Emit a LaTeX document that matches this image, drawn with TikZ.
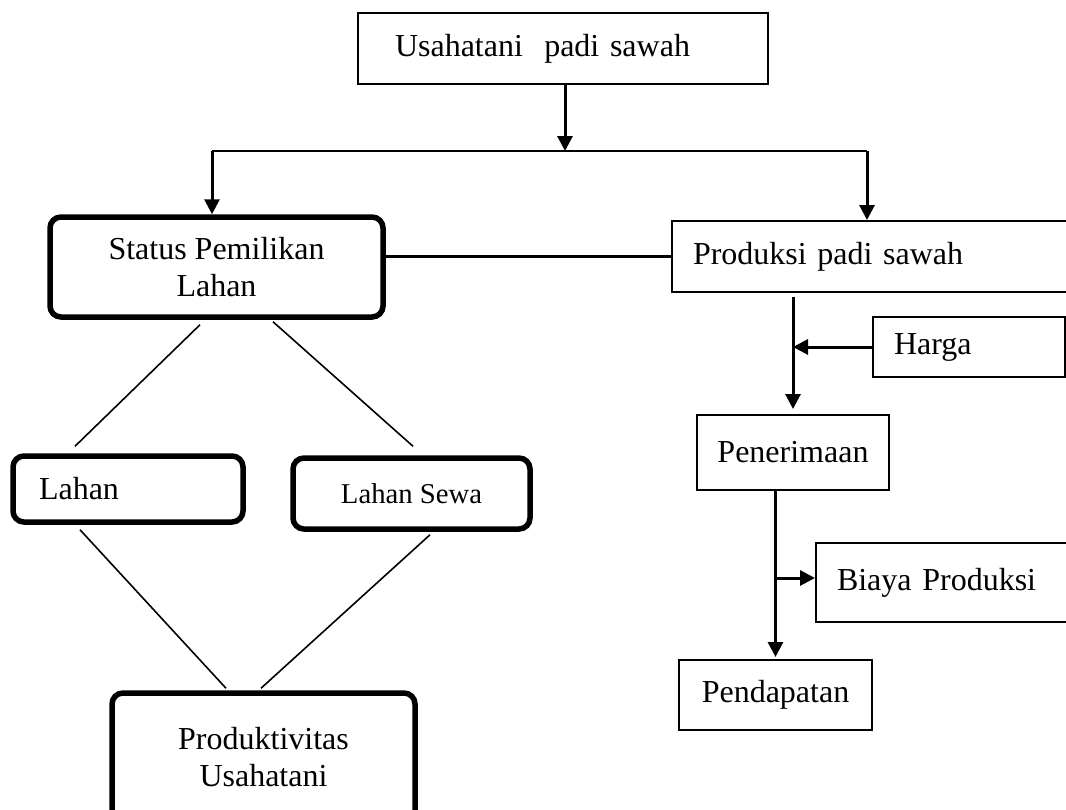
\documentclass[tikz,border=0pt]{standalone}
\usepackage{fontspec}
\setmainfont{Liberation Serif}
\usetikzlibrary{arrows.meta,calc}
\begin{document}
\begin{tikzpicture}[x=1pt,y=-1pt,
  thinbox/.style={draw,line width=2pt,inner ysep=0pt,font=\fontsize{32}{37}\selectfont},
  roundbox/.style={draw,line width=5.5pt,rounded corners=11pt,align=center,inner sep=0pt,font=\fontsize{32}{37}\selectfont},
  arr/.style={line width=3pt,-{Triangle[length=15pt,width=15pt]}},
  conn/.style={line width=2.2pt},
  diag/.style={line width=1.6pt}]
\useasboundingbox (0,0) rectangle (1066,809);
\clip (0,0) rectangle (1066,809);

% boxes
\node[thinbox,minimum width=410,minimum height=71,text width=336,inner xsep=37,align=left] (usaha) at (563,48.5) {Usahatani\ \ padi sawah};
\node[roundbox,minimum width=333,minimum height=100] (status) at (216.5,267) {Status Pemilikan\\Lahan};
\node[thinbox,minimum width=400,minimum height=71,text width=358,inner xsep=21,align=left] (produksi) at (872,256.5) {Produksi padi sawah};
\node[thinbox,minimum width=192,minimum height=60,text width=150,inner xsep=21,align=left] (harga) at (969,347) {Harga};
\node[thinbox,minimum width=192,minimum height=75,align=center] (penerimaan) at (793,452.5) {Penerimaan};
\node[thinbox,minimum width=256,minimum height=79,text width=214,inner xsep=21,align=left] (biaya) at (944,582.5) {Biaya Produksi};
\node[thinbox,minimum width=193,minimum height=70,align=center] (pendapatan) at (775.5,695) {Pendapatan};
\node[roundbox,minimum width=230,minimum height=66,text width=178,inner xsep=26,align=left] (lahan) at (128,489) {Lahan};
\node[roundbox,minimum width=237,minimum height=71,font=\fontsize{28.7}{33}\selectfont] (sewa) at (411.5,493.5) {Lahan Sewa};
\node[roundbox,minimum width=303,minimum height=129] (produktif) at (263.5,757.5) {Produktivitas\\Usahatani};

% top split
\coordinate (split) at (565,151);
\coordinate (L) at (212,151);
\coordinate (R) at (867,151);
\draw[arr] (usaha.south -| split) -- (split);
\draw[conn] (L) -- (R);
\draw[arr] (L) -- (L |- status.north);
\draw[arr] (R) -- (R |- produksi.north);
\draw[conn] (produksi.west -| status.east) -- (produksi.west);

% right chain
\draw[arr,shorten <=4pt,shorten >=5pt] (produksi.south -| penerimaan.north) -- (penerimaan.north);
\draw[arr] (harga.west) -- (harga.west -| penerimaan.north);
\draw[arr,shorten >=2pt] (penerimaan.south -| pendapatan.north) -- (pendapatan.north);
\coordinate (branch) at (775,578);
\draw[arr] (branch) -- (branch -| biaya.west);

% diagonals
\draw[diag] ($(status.south)+(-16.5,5)$) -- ($(lahan.north)+(-53,-7)$);
\draw[diag] ($(status.south)+(56.5,2)$) -- ($(sewa.north)+(1.5,-9)$);
\draw[diag] ($(lahan.south)+(-48,5)$) -- ($(produktif.north)+(-37.5,-2)$);
\draw[diag] ($(sewa.south)+(18.5,3)$) -- ($(produktif.north)+(-2.5,-2)$);
\end{tikzpicture}
\end{document}
